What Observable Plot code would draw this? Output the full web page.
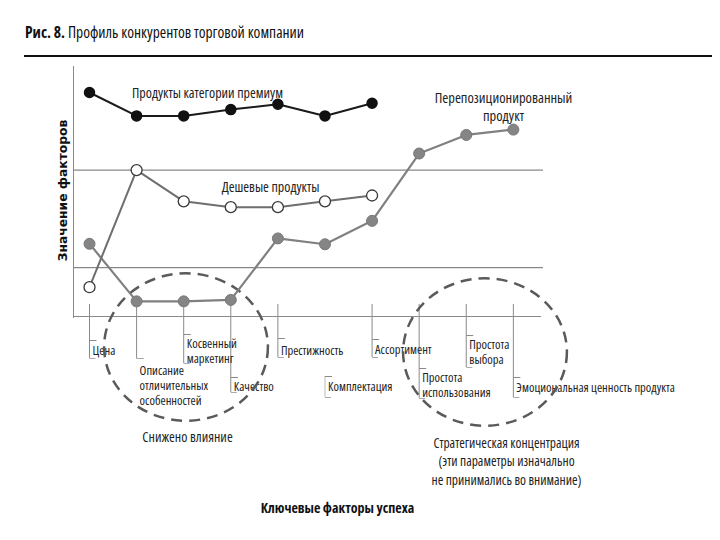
<!DOCTYPE html>
<html><head><meta charset="utf-8">
<script src="https://cdn.jsdelivr.net/npm/d3@7"></script>
<script src="https://cdn.jsdelivr.net/npm/@observablehq/plot@0.6"></script>
<style>
body{margin:0;background:#fff;}
#head{position:relative;width:720px;height:60px;}
#title{position:absolute;left:25px;top:23px;font-size:15.5px;font-family:"Open Sans",sans-serif;font-stretch:condensed;line-height:18px;color:#111;white-space:nowrap}
#rule{position:absolute;left:24px;top:55px;width:688px;height:1.5px;background:#111}
g[font-family*="Open Sans"]{font-stretch:condensed;}
</style></head><body>
<div id="head"><div id="title"><b>Рис. 8.</b> Профиль конкурентов торговой компании</div><div id="rule"></div></div>
<div id="chart"></div>
<script>
// ---- data ----
const factors = ["Цена", "Описание\nотличительных\nособенностей", "Косвенный\nмаркетинг", "Качество", "Престижность", "Комплектация", "Ассортимент", "Простота\nиспользования", "Простота\nвыбора", "Эмоциональная ценность продукта"];
const premium = [4.59, 4.11, 4.11, 4.24, 4.35, 4.11, 4.37];
const cheap = [0.60, 3.00, 2.36, 2.24, 2.24, 2.36, 2.48];
const repositioned = [1.49, 0.31, 0.31, 0.34, 1.60, 1.48, 1.96, 3.34, 3.72, 3.83];
const gridValues = [1, 3];
const seriesNames = ["Продукты категории премиум", "Дешевые продукты", "Перепозиционированный\nпродукт"];
const groupNames = ["Снижено влияние", "Стратегическая концентрация\n(эти параметры изначально\nне принимались во внимание)"];
const yTitle = "Значение факторов";
const xTitle = "Ключевые факторы успеха";

// ---- layout ----
const W = 720, H = 480, mL = 73, mR = 177, mT = 12, mB = 224, TOP = 60;
const xDomain = [-0.34, 9.64], yDomain = [0, 5];
const pxX = (xDomain[1] - xDomain[0]) / (W - mL - mR);
const pxY = (yDomain[1] - yDomain[0]) / (H - mT - mB);
const px2x = px => xDomain[0] + (px - mL) * pxX;
const py2y = py => (H - mB + TOP - py) * pxY;
const narrow = '"Open Sans",sans-serif';

// label placement below the axis (page pixels): first-line centre, bracket top/bottom, tick to axis
const labelCenter = [349, 369, 342, 385, 349, 385, 348, 376, 343, 386];
const bracketTop = [340, 358, 334, 377, 338, 376, 339, 368, 335, 377];
const bracketBottom = [358, 358, 363, 392, 357, 397, 357, 398, 367, 397];
const axisTick = [true, true, true, true, true, false, true, true, true, true];

const rows = factors.map((f, i) => ({i, f, c: labelCenter[i], t: bracketTop[i], b: bracketBottom[i], a: axisTick[i]}));
const toPts = arr => arr.map((v, i) => ({i, v}));

const ellipse = {draw(ctx, size) {
  const r = Math.sqrt(size / Math.PI), rx = r * 1.05, ry = r * 0.945, k = 0.5523;
  ctx.moveTo(rx, 0);
  ctx.bezierCurveTo(rx, ry * k, rx * k, ry, 0, ry);
  ctx.bezierCurveTo(-rx * k, ry, -rx, ry * k, -rx, 0);
  ctx.bezierCurveTo(-rx, -ry * k, -rx * k, -ry, 0, -ry);
  ctx.bezierCurveTo(rx * k, -ry, rx, -ry * k, rx, 0);
  ctx.closePath();
}};

const chart = Plot.plot({
  width: W, height: H, marginLeft: mL, marginRight: mR, marginTop: mT, marginBottom: mB,
  x: {type: "linear", domain: xDomain, axis: null},
  y: {type: "linear", domain: yDomain, axis: null},
  style: {background: "#fff", color: "#111", overflow: "visible"},
  marks: [
    Plot.ruleY(gridValues, {stroke: "#6a6a6a", strokeWidth: 1}),
    Plot.ruleY([0], {x1: xDomain[0], x2: px2x(541), stroke: "#8a8a8a", strokeWidth: 1}),
    Plot.ruleX([xDomain[0]], {y1: py2y(318), y2: py2y(66), stroke: "#8a8a8a", strokeWidth: 1}),
    // ticks / brackets
    Plot.ruleX(rows.filter(d => d.a), {x: "i", y1: py2y(304), y2: d => py2y(d.b), stroke: "#8a8a8a", strokeWidth: 1}),
    Plot.ruleX(rows.filter(d => !d.a), {x: "i", y1: d => py2y(d.t), y2: d => py2y(d.b), stroke: "#bbb", strokeWidth: 1}),
    Plot.link(rows, {x1: "i", x2: d => d.i + 7 * pxX, y1: d => py2y(d.t), y2: d => py2y(d.t), stroke: "#8a8a8a", strokeWidth: 1}),
    Plot.link(rows, {x1: "i", x2: d => d.i + 6 * pxX, y1: d => py2y(d.b), y2: d => py2y(d.b), stroke: "#aaa", strokeWidth: 1}),
    Plot.text(rows, {x: d => d.i + 3 * pxX, y: d => py2y(d.c - 5), text: "f", textAnchor: "start", lineAnchor: "top", lineHeight: 1.2, fontSize: 12.5, fontFamily: narrow, fill: "#222"}),
    // dashed groups
    Plot.dot([{x: px2x(185.5), y: py2y(346.5)}, {x: px2x(484.5), y: py2y(351.5)}], {x: "x", y: "y", r: 78, symbol: ellipse, fill: "none", stroke: "#5a5a5a", strokeWidth: 2.5, strokeDasharray: "11,7"}),
    // series
    Plot.line(toPts(repositioned), {x: "i", y: "v", stroke: "#808080", strokeWidth: 2.2}),
    Plot.line(toPts(cheap), {x: "i", y: "v", stroke: "#6e6e6e", strokeWidth: 2}),
    Plot.line(toPts(premium), {x: "i", y: "v", stroke: "#1a1a1a", strokeWidth: 2}),
    Plot.dot(toPts(repositioned), {x: "i", y: "v", r: 5.5, fill: "#858585", stroke: "#777", strokeWidth: 1}),
    Plot.dot(toPts(cheap), {x: "i", y: "v", r: 5.5, fill: "#fff", stroke: "#3a3a3a", strokeWidth: 1.3}),
    Plot.dot(toPts(premium), {x: "i", y: "v", r: 5, fill: "#111", stroke: "#111"}),
    // annotations
    Plot.text([seriesNames[0]], {x: px2x(207), y: py2y(93), text: d => d, fontSize: 14, fontFamily: narrow, fill: "#222"}),
    Plot.text([seriesNames[1]], {x: px2x(270), y: py2y(187), text: d => d, fontSize: 14, fontFamily: narrow, fill: "#222"}),
    Plot.text([seriesNames[2]], {x: px2x(503), y: py2y(106), text: d => d, fontSize: 14.5, lineHeight: 1.25, fontFamily: narrow, fill: "#222"}),
    Plot.text([groupNames[0]], {x: px2x(187), y: py2y(437), text: d => d, fontSize: 14, fontFamily: narrow, fill: "#222"}),
    Plot.text([groupNames[1]], {x: px2x(506), y: py2y(460), text: d => d, fontSize: 13.5, lineHeight: 1.35, fontFamily: narrow, fill: "#222"}),
    Plot.text([xTitle], {x: px2x(337), y: py2y(508), text: d => d, fontSize: 14, fontWeight: "bold", fontFamily: narrow, fill: "#111"}),
    Plot.text([yTitle], {x: px2x(63), y: py2y(190), text: d => d, rotate: -90, fontSize: 12.3, fontWeight: "bold", fontFamily: '"DejaVu Sans",sans-serif', fill: "#111"})
  ]
});
document.getElementById("chart").appendChild(chart);
</script>
</body></html>
